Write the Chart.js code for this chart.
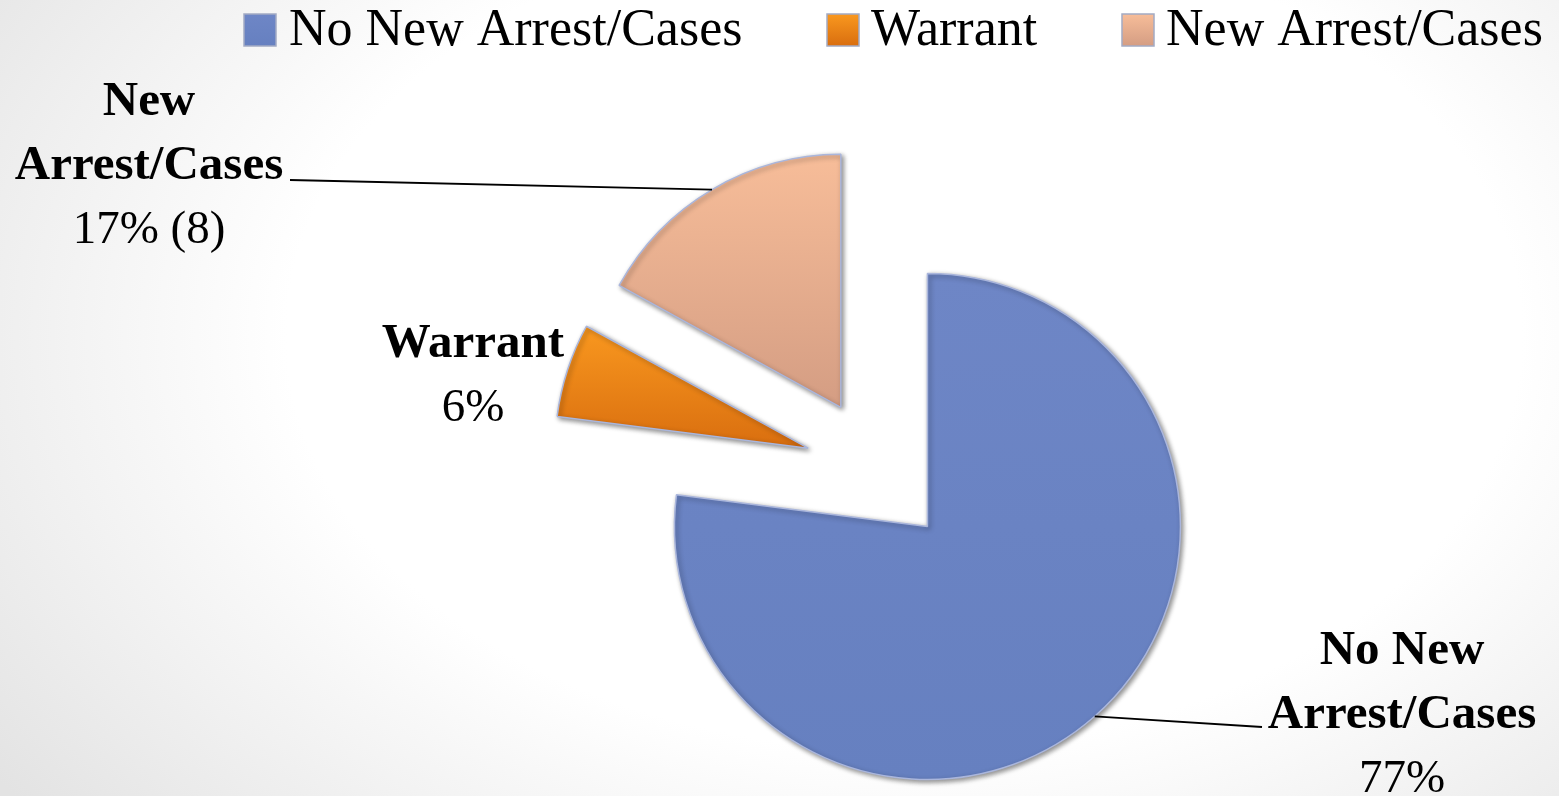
<!DOCTYPE html>
<html><head><meta charset="utf-8">
<script src="https://cdn.jsdelivr.net/npm/chart.js@4.4.1/dist/chart.umd.min.js"></script>
<style>
html,body{margin:0;padding:0;}
body{width:1559px;height:796px;overflow:hidden;background:radial-gradient(ellipse 72% 95% at 58% 42%, #ffffff 55%, #e3e3e3 100%);}
#wrap{position:relative;width:1559px;height:796px;}
</style></head><body>
<div id="wrap"><canvas id="c"></canvas></div>
<script>
// ---- data ----
const categories = ['No New Arrest/Cases', 'Warrant', 'New Arrest/Cases'];
const percentages = [77, 6, 17];
const counts = [null, null, 8];
const labelLines = [['No New', 'Arrest/Cases'], ['Warrant'], ['New', 'Arrest/Cases']];

// ---- style / layout ----
const sliceColors = [['#6e86c6', '#6680c0'], ['#f9981f', '#d96e0f'], ['#f7bd99', '#d49d83']];
const RADIUS = 253;
const EXPLODE = 74;
const FONT = "'Liberation Serif', 'Times New Roman', serif";
const labelAnchors = [{x:1402, y:664}, {x:473, y:357}, {x:149, y:115}];
const leaderEnds = [{x:1262, y:727}, null, {x:290, y:180}];
const legendPos = [{box:244, text:289}, {box:827, text:871}, {box:1122, text:1166}];

function sliceBounds(chart, i) {
  const a = chart.chartArea;
  const cx = (a.left + a.right) / 2, cy = (a.top + a.bottom) / 2;
  const total = percentages.reduce((s, v) => s + v, 0);
  const before = percentages.slice(0, i).reduce((s, v) => s + v, 0);
  const a0 = -Math.PI / 2 + 2 * Math.PI * before / total;
  const a1 = a0 + 2 * Math.PI * percentages[i] / total;
  const mid = (a0 + a1) / 2;
  const ox = cx + Math.cos(mid) * EXPLODE, oy = cy + Math.sin(mid) * EXPLODE;
  const ys = [oy];
  for (let k = 0; k <= 40; k++) ys.push(oy + Math.sin(a0 + (a1 - a0) * k / 40) * RADIUS);
  return {top: Math.min(...ys), bottom: Math.max(...ys)};
}

function sliceFill(context) {
  const chart = context.chart, i = context.dataIndex;
  if (!chart.chartArea) return sliceColors[i][0];
  const b = sliceBounds(chart, i);
  const g = chart.ctx.createLinearGradient(0, b.top, 0, b.bottom);
  g.addColorStop(0, sliceColors[i][0]);
  g.addColorStop(1, sliceColors[i][1]);
  return g;
}

// moves every slice outward along its mid angle (exploded pie)
const explodePlugin = {
  id: 'explode',
  beforeDatasetsDraw(chart) {
    const a = chart.chartArea;
    const cx = (a.left + a.right) / 2, cy = (a.top + a.bottom) / 2;
    const meta = chart.getDatasetMeta(0);
    meta.data.forEach(el => {
      const mid = (el.startAngle + el.endAngle) / 2;
      el.x = cx + Math.cos(mid) * EXPLODE;
      el.y = cy + Math.sin(mid) * EXPLODE;
    });
    const ctx = chart.ctx;
    ctx.save();
    ctx.shadowColor = 'rgba(0,0,0,0.45)';
    ctx.shadowBlur = 5;
    ctx.shadowOffsetX = 2;
    ctx.shadowOffsetY = 2;
  },
  afterDatasetsDraw(chart) {
    chart.ctx.restore();
  }
};

const labelPlugin = {
  id: 'labels',
  afterDraw(chart) {
    const ctx = chart.ctx;
    const meta = chart.getDatasetMeta(0);
    ctx.save();
    // leader lines
    meta.data.forEach((el, i) => {
      const end = leaderEnds[i];
      if (!end) return;
      const mid = (el.startAngle + el.endAngle) / 2;
      const r = el.outerRadius;
      ctx.beginPath();
      ctx.moveTo(el.x + Math.cos(mid) * r, el.y + Math.sin(mid) * r);
      ctx.lineTo(end.x, end.y);
      ctx.strokeStyle = '#000';
      ctx.lineWidth = 1.8;
      ctx.stroke();
    });
    // labels
    ctx.fillStyle = '#000';
    ctx.textAlign = 'center';
    ctx.textBaseline = 'alphabetic';
    const LH = 64;
    categories.forEach((c, i) => {
      const an = labelAnchors[i];
      let y = an.y;
      ctx.font = 'bold 49px ' + FONT;
      labelLines[i].forEach(t => { ctx.fillText(t, an.x, y); y += LH; });
      ctx.font = '47px ' + FONT;
      const txt = percentages[i] + '%' + (counts[i] != null ? ' (' + counts[i] + ')' : '');
      ctx.fillText(txt, an.x, y);
    });
    // legend
    ctx.textAlign = 'left';
    ctx.font = '52px ' + FONT;
    categories.forEach((c, i) => {
      const p = legendPos[i];
      const g = ctx.createLinearGradient(0, 14, 0, 46);
      g.addColorStop(0, sliceColors[i][0]);
      g.addColorStop(1, sliceColors[i][1]);
      ctx.fillStyle = g;
      ctx.fillRect(p.box, 14, 32, 32);
      ctx.strokeStyle = '#a3abc4';
      ctx.lineWidth = 1.5;
      ctx.strokeRect(p.box, 14, 32, 32);
      ctx.fillStyle = '#000';
      ctx.fillText(c, p.text, 45);
    });
    ctx.restore();
  }
};

new Chart(document.getElementById('c'), {
  type: 'pie',
  data: {
    labels: categories,
    datasets: [{
      data: percentages,
      backgroundColor: sliceFill,
      borderColor: '#aab6dc',
      borderWidth: 1.5,
      offset: 0
    }]
  },
  options: {
    responsive: true,
    maintainAspectRatio: false,
    animation: false,
    events: [],
    radius: RADIUS,
    layout: {padding: {left: 198, top: 146, right: 0, bottom: 0}},
    plugins: {legend: {display: false}, tooltip: {enabled: false}, title: {display: false}}
  },
  plugins: [explodePlugin, labelPlugin]
});
</script>
</body></html>
